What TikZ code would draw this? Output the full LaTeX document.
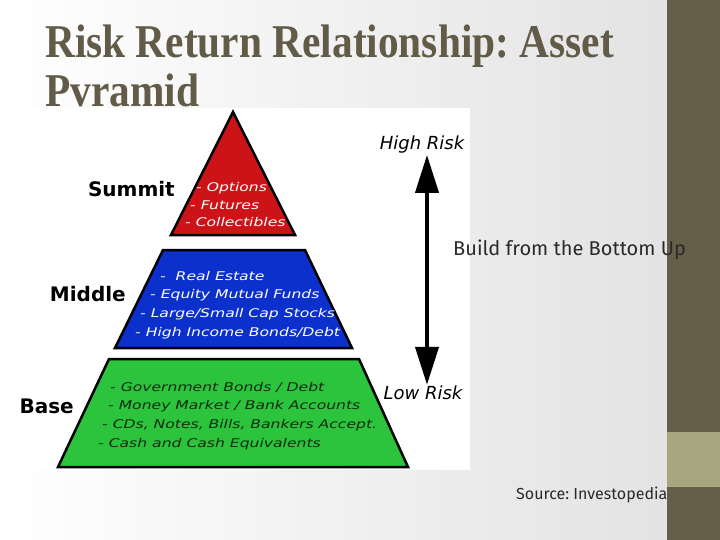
\documentclass[tikz,border=0pt]{standalone}
\usepackage{fontspec}
\setmainfont{DejaVu Sans}
\newfontfamily\ttlfont[FakeStretch=0.88]{Liberation Serif}
\newfontfamily\itmfont[FakeStretch=1.3]{DejaVu Sans}
\newfontfamily\notefont{Fira Sans}
\usetikzlibrary{arrows.meta}
\definecolor{slideOlive}{HTML}{655E49}
\definecolor{slideSage}{HTML}{A8A67E}
\definecolor{slideTitle}{HTML}{625B47}
\definecolor{slideInk}{HTML}{2A2A2A}
\definecolor{pyrRed}{HTML}{CC1418}
\definecolor{pyrBlue}{HTML}{0B30CC}
\definecolor{pyrGreen}{HTML}{2BC43C}
\definecolor{pyrInk}{HTML}{102A10}
\frenchspacing

\begin{document}
\begin{tikzpicture}[x=1pt,y=-1pt,
  tier/.style={draw=black,line width=2.5pt,line join=miter},
  lvl/.style={font=\fontsize{20}{20}\selectfont\bfseries,anchor=east,inner sep=0pt},
  itm/.style={font=\itmfont\fontsize{12}{12}\selectfont\itshape,anchor=west,inner sep=0pt},
  rsk/.style={font=\fontsize{18}{18}\selectfont\itshape,inner sep=1pt},
  ttl/.style={font=\ttlfont\fontsize{47}{50}\selectfont\bfseries,text=slideTitle,
              anchor=base west,inner sep=0pt},
  note/.style={font=\notefont,text=slideInk,anchor=west,inner sep=0pt},
  a/.style={{Triangle[length=38pt,width=23pt]}-{Triangle[length=38pt,width=23pt]},
            line width=4pt}]
  \useasboundingbox (0,0) rectangle (720,540);
  \shade[left color=white,middle color=white,right color=black!11] (0,0) rectangle (667,540);
  \fill[slideOlive] (667,0) rectangle (720,540);
  \fill[slideSage] (667,432) rectangle (720,487);
  \fill[white] (15,108) rectangle (470,470);
  \node[ttl] (t1) at (45,58)  {Risk Return Relationship: Asset};
  \node[ttl] (t2) at (45,107) {Pvramid};
  \draw[tier,fill=pyrRed]   (233,112) -- (295,235) -- (171,235) -- cycle;
  \draw[tier,fill=pyrBlue]  (163,250) -- (305,250) -- (352,348) -- (115,348) -- cycle;
  \draw[tier,fill=pyrGreen] (109,359) -- (359,359) -- (408,467) -- (58,467) -- cycle;
  \node[lvl] (sum) at (175,189) {Summit};
  \node[lvl] (mid) at (126,294) {Middle};
  \node[lvl] (bas) at (74,406)  {Base};
  \node[itm,text=white] (s1) at (196,188) {- Options};
  \node[itm,text=white] (s2) at (190,205) {- Futures};
  \node[itm,text=white] (s3) at (185,222) {- Collectibles};
  \node[itm,text=white] (m1) at (160,276) {-\ \ Real Estate};
  \node[itm,text=white] (m2) at (150,295) {- Equity Mutual Funds};
  \node[itm,text=white] (m3) at (140,314) {- Large/Small Cap Stocks};
  \node[itm,text=white] (m4) at (135,333) {- High Income Bonds/Debt};
  \node[itm,text=pyrInk] (b1) at (110,387) {- Government Bonds / Debt};
  \node[itm,text=pyrInk] (b2) at (108,406) {- Money Market / Bank Accounts};
  \node[itm,text=pyrInk] (b3) at (102,425) {- CDs, Notes, Bills, Bankers Accept.};
  \node[itm,text=pyrInk] (b4) at (98,444)  {- Cash and Cash Equivalents};
  \node[rsk] (hi) at (422,145) {High Risk};
  \node[rsk] (lo) at (423,393) {Low Risk};
  \draw[a] ([xshift=5pt]hi.south) -- ([xshift=4pt]lo.north);
  \node[note,font=\notefont\fontsize{20}{20}\selectfont] (bld) at (453,250) {Build from the Bottom Up};
  \node[note,font=\notefont\fontsize{16}{16}\selectfont] (src) at (516,495) {Source: Investopedia};
\end{tikzpicture}
\end{document}
